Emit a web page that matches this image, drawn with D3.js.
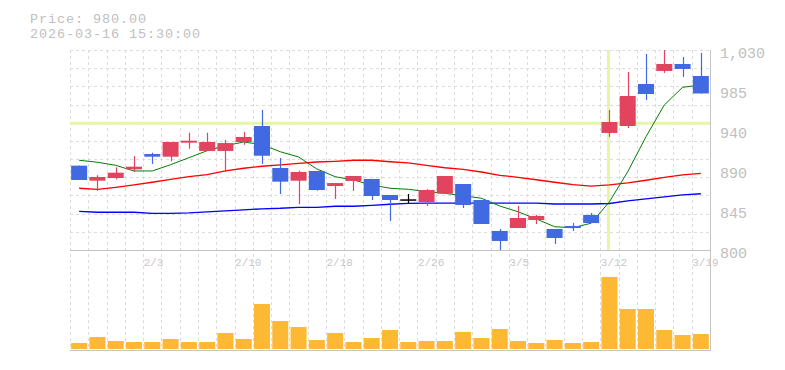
<!DOCTYPE html>
<html>
<head>
<meta charset="utf-8">
<script src="https://cdn.jsdelivr.net/npm/d3@7"></script>
<style>
  body { margin: 0; background: #fff; }
  svg text { font-family: "Liberation Mono", "DejaVu Sans Mono", monospace; }
</style>
</head>
<body>
<div id="chart"></div>
<script>
// daily candles
const dates = ["1/28","1/29","1/30","2/2","2/3","2/4","2/5","2/6","2/9","2/10",
  "2/12","2/13","2/16","2/17","2/18","2/19","2/20","2/24","2/25","2/26",
  "2/27","3/2","3/3","3/4","3/5","3/6","3/9","3/10","3/11","3/12",
  "3/13","3/16","3/17","3/18","3/19"];
const open  = [897,879.7,882.8,892.8,910.4,907.3,923.4,913.9,913.9,924.2,
  942.6,894.3,879.7,890.9,873.6,879.4,881.7,863.3,858.3,855.2,
  864.8,875.9,857.5,821.9,825.3,834.5,824.2,827.6,840.3,934.6,
  942.6,990.9,1005.9,1013.9,1000.1];
const high  = [897,886,895,908,911.9,924.2,934.9,934.9,926.5,935.7,
  961,905.8,891.2,890.9,877,885.1,881.7,863.3,864.4,870,
  885.1,875.9,857.5,824.2,850.6,840.3,824.2,831,842.6,961,
  1004.7,1025.4,1030,1022,1026.6];
const low   = [880.5,868,881.3,889.7,899,902,916.5,913.9,889.7,921,
  899,864.4,852.9,868.2,858.7,867.9,857.5,833.4,853.7,850.6,
  864.8,848.3,829.9,800,825.3,829.9,806.9,821.9,831,930,
  940.3,972.5,1003.6,999,979.8];
const close = [880.5,884,888.9,895.8,907.3,924.2,925.7,924.2,923,930,
  908.4,878.6,889.7,869,877,885.1,862.1,857.5,858.3,869,
  885.1,851.8,829.9,810.4,836.8,839.1,813.8,825.3,831,947.2,
  977.1,979.4,1013.9,1008.2,980];
const volume = [6,12,8,7,7,10,7,7,16,10,
  45,28,22,9,16,7,11,19,7,8,
  8,17,11,20,8,6,9,6,7,72,
  40,40,19,14,15];

// moving averages
const ma5 = [903.2,900.9,897.4,890.9,890.9,898.1,906.1,914.2,919.9,924.2,
  921.2,913.0,907.0,893.2,884.3,880.5,874.8,871.0,869.8,867.3,
  865.2,862.4,859.5,850.6,844.0,835.7,826.8,825.6,830.8,855.5,
  890.0,930.3,966.8,987.1,989.8];
const ma25 = [871.0,869.8,872.1,874.8,877.9,881.3,884.3,886.6,890.9,894.0,
  896.3,897.8,899.7,901.2,902.0,903.2,903.2,901.5,900.1,897.2,
  894.6,892.8,889.7,885.9,883.6,880.8,877.9,875.1,873.4,874.8,
  877.1,880.2,883.6,886.3,888.2];
const ma75 = [844.5,843.4,843.4,843.4,842.2,842.2,842.8,843.9,845.1,846.2,
  847.4,848.0,849.1,849.1,850.3,850.3,851.4,852.6,853.7,853.8,
  853.8,853.8,853.8,853.8,853.8,853.8,852.9,852.9,852.9,853.5,
  856.4,858.7,861.0,863.3,864.7];

const yTicks = [800, 846, 892, 938, 984, 1030];
const yTickLabels = ["800", "845", "890", "940", "985", "1,030"];
const xLabelIdx = [4, 9, 14, 19, 24, 29, 34];

const cursorIdx = 29, cursorPrice = 945.7;

const W = 785, H = 370;
const padL = 70, padR = 710, padT = 50, priceBottom = 250, volBottom = 350;

const svg = d3.select("#chart").append("svg")
  .attr("width", W).attr("height", H);

const x = d3.scaleBand().domain(d3.range(dates.length))
  .range([padL, padR]).paddingInner(0.125).paddingOuter(0.0625);
const step = x.step();
const cx = i => x(i) + x.bandwidth() / 2;

const y = d3.scaleLinear().domain([800, 1030]).range([priceBottom, padT]);
const yv = d3.scaleLinear().domain([0, 80]).range([349, 269]);

// grid
const grid = svg.append("g").attr("stroke", "#dcdcdc").attr("stroke-dasharray", "3,3");
grid.selectAll("line.h").data(d3.range(11)).join("line")
  .attr("x1", padL).attr("x2", padR)
  .attr("y1", k => Math.round(padT + k * (priceBottom - padT) / 11) + 0.5)
  .attr("y2", k => Math.round(padT + k * (priceBottom - padT) / 11) + 0.5);
grid.selectAll("line.v").data(d3.range(dates.length)).join("line")
  .attr("x1", i => Math.round(cx(i) - step / 2) + 0.5)
  .attr("x2", i => Math.round(cx(i) - step / 2) + 0.5)
  .attr("y1", padT).attr("y2", volBottom);

// cursor
svg.append("line")
  .attr("x1", padL).attr("x2", padR)
  .attr("y1", y(cursorPrice)).attr("y2", y(cursorPrice))
  .attr("stroke", "#e6f5a8").attr("stroke-width", 3);
svg.append("line")
  .attr("x1", cx(cursorIdx) - 1).attr("x2", cx(cursorIdx) - 1)
  .attr("y1", padT).attr("y2", priceBottom)
  .attr("stroke", "#e6f5a8").attr("stroke-width", 3);

// axes frame
svg.append("line").attr("x1", padL).attr("x2", padR + 1)
  .attr("y1", priceBottom + 0.5).attr("y2", priceBottom + 0.5).attr("stroke", "#c4c4c4");
svg.append("line").attr("x1", padL).attr("x2", padR + 1)
  .attr("y1", volBottom + 0.5).attr("y2", volBottom + 0.5).attr("stroke", "#c4c4c4");
svg.append("line").attr("x1", padR + 0.5).attr("x2", padR + 0.5)
  .attr("y1", padT).attr("y2", volBottom).attr("stroke", "#c4c4c4");

// volume
svg.append("g").selectAll("rect").data(volume).join("rect")
  .attr("x", (d, i) => x(i)).attr("width", x.bandwidth())
  .attr("y", d => yv(d)).attr("height", d => yv(0) - yv(d))
  .attr("fill", "#fdb834");

// moving averages
const line = d3.line().x((d, i) => cx(i)).y(d => y(d));
[[ma75, "#0000ff", 1.3], [ma25, "#ff0000", 1.3], [ma5, "#008000", 1]].forEach(([s, c, w]) => {
  svg.append("path").datum(s).attr("d", line)
    .attr("fill", "none").attr("stroke", c).attr("stroke-width", w);
});

// candles
const colorOf = i => close[i] > open[i] ? "#e2435f" : close[i] < open[i] ? "#4169e1" : "#000";
const cg = svg.append("g");
dates.forEach((d, i) => {
  const c = colorOf(i);
  cg.append("line")
    .attr("x1", Math.round(cx(i)) + 0.5).attr("x2", Math.round(cx(i)) + 0.5)
    .attr("y1", y(high[i])).attr("y2", y(low[i]))
    .attr("stroke", c).attr("stroke-width", 1.2);
  const yt = y(Math.max(open[i], close[i])), yb = y(Math.min(open[i], close[i]));
  cg.append("rect")
    .attr("x", x(i)).attr("width", x.bandwidth())
    .attr("y", yt).attr("height", Math.max(yb - yt, 1.5))
    .attr("fill", c);
});

// y labels
svg.append("g").selectAll("text").data(yTicks).join("text")
  .attr("x", 720).attr("y", d => y(d) + 8)
  .attr("font-size", 15).attr("fill", "#c0c0c0")
  .text((d, i) => yTickLabels[i]);

// x labels
svg.append("g").selectAll("text").data(xLabelIdx).join("text")
  .attr("x", i => cx(i) - step / 2 + 0.5).attr("y", 266)
  .attr("font-size", 11).attr("fill", "#c8c8c8")
  .text(i => dates[i]);

// header
svg.append("text").attr("x", 30).attr("y", 22.5).attr("font-size", 13.5)
  .attr("letter-spacing", 0.9)
  .attr("fill", "#c0c0c0").text("Price: " + d3.format(".2f")(close[close.length - 1]));
svg.append("text").attr("x", 30).attr("y", 38).attr("font-size", 13.5)
  .attr("letter-spacing", 0.9)
  .attr("fill", "#c0c0c0").text("2026-03-16 15:30:00");
</script>
</body>
</html>
